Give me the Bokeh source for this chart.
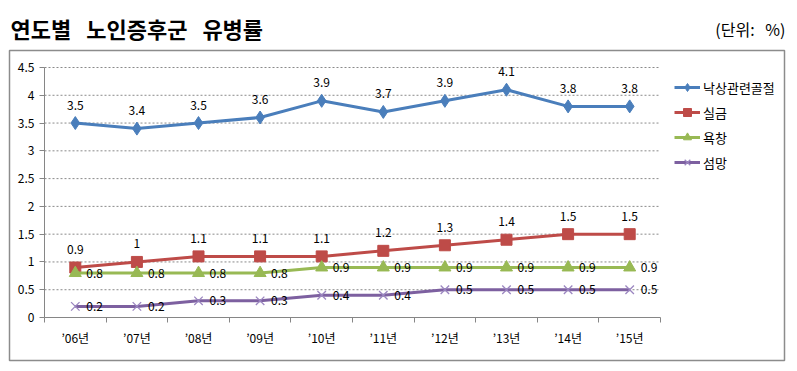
from bokeh.plotting import figure
from bokeh.models import (FixedTicker, Legend, LegendItem, ColumnDataSource, Range1d)
from bokeh.core.properties import value
from bokeh.embed import file_html
from bokeh.resources import INLINE

FONT = "Noto Sans CJK KR"

# ---- data ----
years = ["’06년", "’07년", "’08년", "’09년", "’10년",
         "’11년", "’12년", "’13년", "’14년", "’15년"]
falls = [3.5, 3.4, 3.5, 3.6, 3.9, 3.7, 3.9, 4.1, 3.8, 3.8]
incontinence = [0.9, 1.0, 1.1, 1.1, 1.1, 1.2, 1.3, 1.4, 1.5, 1.5]
pressure_ulcer = [0.8, 0.8, 0.8, 0.8, 0.9, 0.9, 0.9, 0.9, 0.9, 0.9]
delirium = [0.2, 0.2, 0.3, 0.3, 0.4, 0.4, 0.5, 0.5, 0.5, 0.5]
series_names = ["낙상관련골절", "실금", "욕창", "섬망"]
y_ticks = [0, 0.5, 1, 1.5, 2, 2.5, 3, 3.5, 4, 4.5]
y_max = 4.5
title_text = "연도별\u00a0\u00a0\u00a0노인증후군\u00a0\u00a0\u00a0유병률"
unit_text = "(단위:\u00a0\u00a0\u00a0%)"

# ---- layout (pixels) ----
W, H = 790, 364
PL, PR, PT, PB = 44, 660, 67, 317   # plot area edges in pixels
n = len(years)
ux = (PR - PL) / n                 # px per category
uy = (PB - PT) / y_max             # px per unit

colors = ["#4A7EBB", "#BE4B48", "#98B954", "#7D60A0"]
markers = ["diamond", "square", "triangle", "x"]
msizes = [13, 11, 12, 12]
label_pos = ["above", "above", "right", "right"]

xs = [i + 0.5 for i in range(n)]

p = figure(frame_width=W, frame_height=H,
           min_border=0, min_border_left=0, min_border_right=0,
           min_border_top=0, min_border_bottom=0,
           x_range=Range1d(-PL / ux, (W - PL) / ux),
           y_range=Range1d(-(H - PB) / uy, y_max + PT / uy),
           output_backend="svg", toolbar_location=None, tools="")
p.extra_x_ranges = {"px": Range1d(0, W)}
p.extra_y_ranges = {"px": Range1d(H, 0)}
p.outline_line_color = None
p.background_fill_color = "white"
p.border_fill_color = "white"
p.xgrid.visible = False
p.ygrid.visible = False

# chart box
p.quad(left=[9], right=[784], top=[50], bottom=[360], x_range_name="px",
       y_range_name="px", fill_color=None, line_color="#8c8c8c", line_width=1.5)

# header texts
p.text(x=[10], y=[27], text=[title_text], x_range_name="px", y_range_name="px",
       text_font=value(FONT), text_font_size="22px", text_font_style="bold",
       text_align="left", text_baseline="middle", text_color="#000000")
p.text(x=[785], y=[28], text=[unit_text], x_range_name="px", y_range_name="px",
       text_font=value(FONT), text_font_size="16px",
       text_align="right", text_baseline="middle", text_color="#000000")

# gridlines
gt = y_ticks[1:]
p.segment(x0=[0] * len(gt), x1=[n] * len(gt), y0=gt, y1=gt,
          line_color="#8a8a8a", line_dash="2 2", line_width=1)

# axes (fixed inside the frame)
p.xaxis.fixed_location = 0
p.xaxis.bounds = (0, n)
p.xaxis.ticker = FixedTicker(ticks=xs, minor_ticks=list(range(n + 1)))
p.xaxis.major_label_overrides = {x: y for x, y in zip(xs, years)}
p.xaxis.major_tick_line_color = None
p.xaxis.major_tick_out = 5
p.xaxis.major_tick_in = 0
p.xaxis.minor_tick_out = 5
p.xaxis.minor_tick_in = 0
p.xaxis.minor_tick_line_color = "#868686"
p.xaxis.major_label_standoff = 6

p.yaxis.fixed_location = 0
p.yaxis.bounds = (0, y_max)
p.yaxis.ticker = FixedTicker(ticks=y_ticks, minor_ticks=[])
p.yaxis.major_label_overrides = {t: (str(int(t)) if t == int(t) else str(t)) for t in y_ticks}
p.yaxis.major_tick_out = 5
p.yaxis.major_tick_in = 0
p.yaxis.major_tick_line_color = "#868686"
p.yaxis.major_label_standoff = 5

for ax in (p.xaxis, p.yaxis):
    ax.axis_line_color = "#868686"
    ax.axis_line_width = 1
    ax.major_label_text_font = FONT
    ax.major_label_text_font_size = "12px"
    ax.major_label_text_color = "#000000"

# series
items = []
for name, vals, c, m, ms, lp in zip(series_names,
                                   [falls, incontinence, pressure_ulcer, delirium],
                                   colors, markers, msizes, label_pos):
    txt = [str(int(v)) if v == int(v) else str(v) for v in vals]
    src = ColumnDataSource(dict(x=xs, y=vals, t=txt))
    r1 = p.line("x", "y", source=src, line_color=c, line_width=3)
    if m == "x":
        r2 = p.scatter("x", "y", source=src, marker=m, size=ms,
                       line_color="#9B86C0", line_width=1.3)
    else:
        r2 = p.scatter("x", "y", source=src, marker=m, size=ms,
                       fill_color=c, line_color=c)
    if lp == "above":
        p.text("x", "y", text="t", source=src, y_offset=-18,
               text_align="center", text_baseline="middle",
               text_font=value(FONT), text_font_size="12px", text_color="#000000")
    else:
        p.text("x", "y", text="t", source=src, x_offset=11,
               text_align="left", text_baseline="middle",
               text_font=value(FONT), text_font_size="12px", text_color="#000000")
    items.append(LegendItem(label=name, renderers=[r1, r2]))

legend = Legend(items=items, location=(674, H - 172),
                glyph_width=26, glyph_height=20, label_height=20,
                spacing=5, padding=0, margin=0, label_standoff=3,
                border_line_color=None, background_fill_alpha=0,
                label_text_font=FONT, label_text_font_size="13px",
                label_text_color="#000000")
p.add_layout(legend)

open("out.html", "w").write(file_html(p, INLINE))
